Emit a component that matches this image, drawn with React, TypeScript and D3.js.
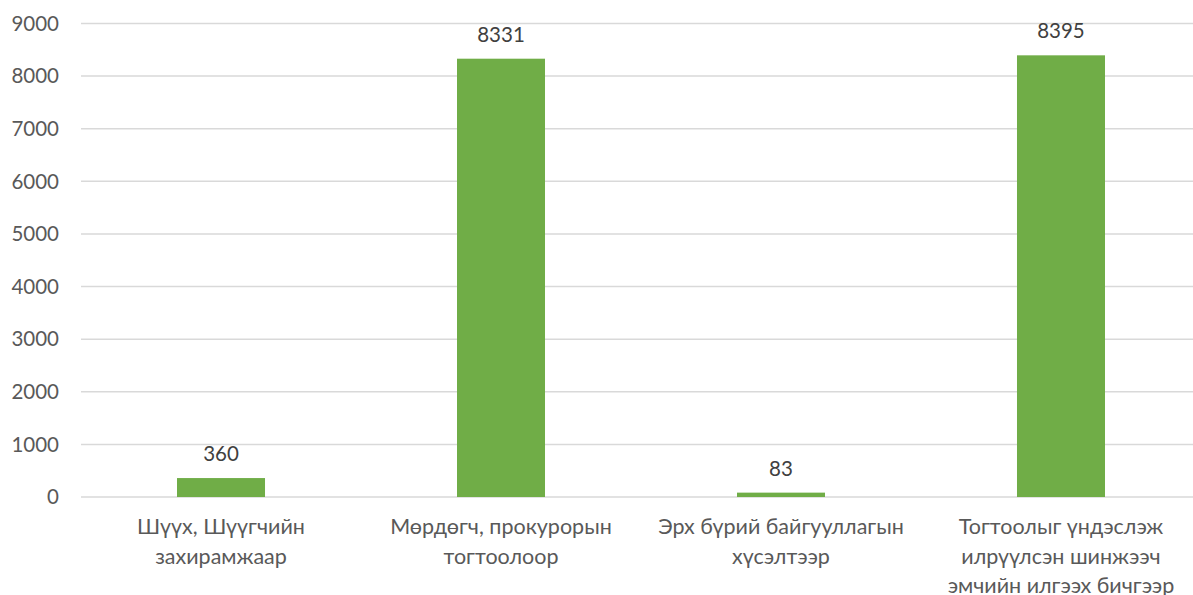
import React from "react";
import * as d3 from "d3";

const categories: string[][] = [
  ["Шүүх, Шүүгчийн", "захирамжаар"],
  ["Мөрдөгч, прокурорын", "тогтоолоор"],
  ["Эрх бүрий байгууллагын", "хүсэлтээр"],
  ["Тогтоолыг үндэслэж", "илрүүлсэн шинжээч", "эмчийн илгээх бичгээр"],
];
const values: number[] = [360, 8331, 83, 8395];
const yTicks: number[] = [0, 1000, 2000, 3000, 4000, 5000, 6000, 7000, 8000, 9000];

const W = 1193;
const H = 595;
const FONT = "Lato, 'Open Sans', sans-serif";

export default function App() {
  const x = d3
    .scaleBand<number>()
    .domain(d3.range(values.length))
    .range([81, 1201])
    .paddingInner(0.6857)
    .paddingOuter(0.3429);
  const y = d3.scaleLinear().domain([0, 9000]).range([497, 23.5]);

  return (
    <svg
      width={W}
      height={H}
      style={{ position: "fixed", left: 0, top: 0, background: "#fff" }}
      fontFamily={FONT}
    >
      {yTicks.map((t) => (
        <g key={t}>
          <line x1={81} x2={W} y1={y(t)} y2={y(t)} stroke="#d9d9d9" strokeWidth={1.5} />
          <text
            x={59}
            y={y(t)}
            dy="0.35em"
            textAnchor="end"
            fontSize={20.5}
            fill="#595959"
          >
            {t}
          </text>
        </g>
      ))}
      {values.map((v, i) => {
        const bx = x(i)!;
        const cx = bx + x.bandwidth() / 2;
        return (
          <g key={i}>
            <rect x={bx} y={y(v)} width={x.bandwidth()} height={y(0) - y(v)} fill="#70ad47" />
            <text
              x={cx}
              y={y(v) - 17}
              textAnchor="middle"
              fontSize={20.5}
              fill="#404040"
            >
              {v}
            </text>
            <text textAnchor="middle" fontSize={21.5} fill="#595959">
              {categories[i].map((line, j) => (
                <tspan key={j} x={cx} y={534 + j * 29.5}>
                  {line}
                </tspan>
              ))}
            </text>
          </g>
        );
      })}
    </svg>
  );
}
